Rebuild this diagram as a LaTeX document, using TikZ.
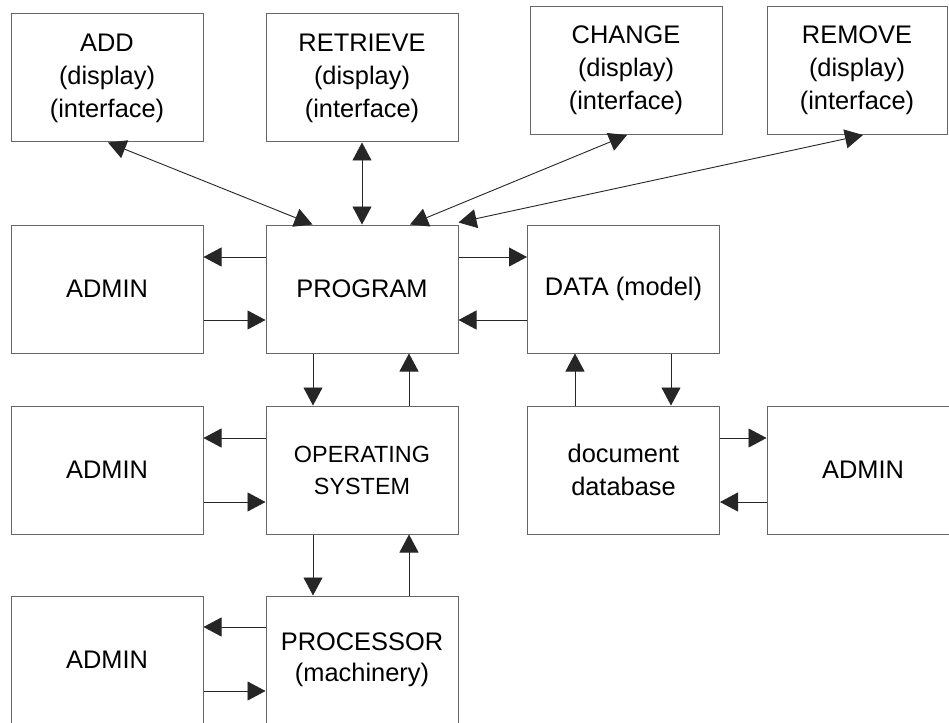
\documentclass[tikz,border=0pt]{standalone}
\usepackage{fontspec}
\setmainfont{Liberation Sans}
\usetikzlibrary{arrows.meta}
\tikzset{
  box/.style={draw=black!60, line width=1pt, rectangle, minimum width=192pt, minimum height=128pt,
    inner sep=0pt, align=center, font=\fontsize{25.4}{33}\selectfont},
  conn/.style={draw=black!85, line width=0.9pt, -{Triangle[length=18pt,width=19pt]}},
  bconn/.style={draw=black!85, line width=0.9pt, {Triangle[length=18pt,width=19pt]}-{Triangle[length=18pt,width=19pt]}}
}
\begin{document}
\begin{tikzpicture}[x=1pt,y=-1pt]
\useasboundingbox (0,0) rectangle (949,722);
\clip (0,0) rectangle (949,722);
\fill[white] (0,0) rectangle (949,722);
% top row
\node[box] (add) at (107,78) {ADD\\(display)\\(interface)};
\node[box] (retrieve) at (362,78) {RETRIEVE\\(display)\\(interface)};
\node[box] (change) at (626,70.5) {CHANGE\\(display)\\(interface)};
\node[box, minimum width=180pt] (remove) at (857,70.5) {REMOVE\\(display)\\(interface)};
% row 2
\node[box] (admina) at (107,289) {ADMIN};
\node[box] (program) at (362,289) {PROGRAM};
\node[box] (data) at (623.5,289) {DATA (model)};
% row 3
\node[box] (adminb) at (107,470) {ADMIN};
\node[box, font=\fontsize{23.4}{32}\selectfont] (os) at (362,470) {OPERATING\\SYSTEM};
\node[box] (db) at (623.5,470) {document\\database};
\node[box] (admind) at (863,470) {ADMIN};
% row 4
\node[box] (adminc) at (107,660) {ADMIN};
\node[box, font=\fontsize{25.4}{31}\selectfont] (proc) at (362,660) {PROCESSOR\\(machinery)};
% top connectors
\draw[bconn] ([xshift=1pt]add.south) -- ([xshift=47pt]program.north west);
\draw[bconn] (retrieve.south) -- (program.north);
\draw[bconn] ([xshift=1pt]change.south) -- ([xshift=48pt]program.north);
\draw[bconn] ([xshift=6pt]remove.south) -- ([yshift=2pt]program.north east);
% program row
\draw[conn] ([yshift=32pt]program.west) -- ([yshift=32pt]admina.east);
\draw[conn] ([yshift=-31pt]admina.east) -- ([yshift=-31pt]program.west);
\draw[conn] ([yshift=32pt]program.east) -- ([yshift=32pt]data.west);
\draw[conn] ([yshift=-31pt]data.west) -- ([yshift=-31pt]program.east);
\draw[conn] ([xshift=-49pt]program.south) -- ([xshift=-49pt]os.north);
\draw[conn] ([xshift=47pt]os.north) -- ([xshift=47pt]program.south);
\draw[conn] ([xshift=-48.5pt]db.north) -- ([xshift=-48.5pt]data.south);
\draw[conn] ([xshift=47.5pt]data.south) -- ([xshift=47.5pt]db.north);
% os row
\draw[conn] ([yshift=32pt]os.west) -- ([yshift=32pt]adminb.east);
\draw[conn] ([yshift=-32pt]adminb.east) -- ([yshift=-32pt]os.west);
\draw[conn] ([yshift=32pt]db.east) -- ([yshift=32pt]admind.west);
\draw[conn] ([yshift=-32pt]admind.west) -- ([yshift=-32pt]db.east);
\draw[conn] ([xshift=-49pt]os.south) -- ([xshift=-49pt]proc.north);
\draw[conn] ([xshift=47pt]proc.north) -- ([xshift=47pt]os.south);
% processor row
\draw[conn] ([yshift=33pt]proc.west) -- ([yshift=33pt]adminc.east);
\draw[conn] ([yshift=-31pt]adminc.east) -- ([yshift=-31pt]proc.west);
\end{tikzpicture}
\end{document}
